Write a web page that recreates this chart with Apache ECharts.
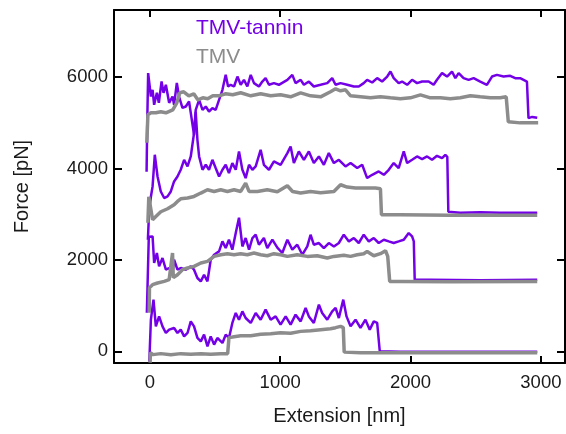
<!DOCTYPE html>
<html>
<head>
<meta charset="utf-8">
<script src="https://cdn.jsdelivr.net/npm/echarts@6/dist/echarts.min.js"></script>
<style>
html,body{margin:0;padding:0;background:#fff;}
#chart{width:566px;height:434px;}
</style>
</head>
<body>
<div id="chart"></div>
<script>
// Series names
const seriesNames = ['TMV-tannin', 'TMV'];
// Axis titles
const xTitle = 'Extension [nm]';
const yTitle = 'Force [pN]';

// Pair 4 (top)
const tannin4 = [[-25,3930],[-20,5000],[-13,6090],[8,5577],[21,5723],[33,5395],[54,5658],[69,5439],[90,5905],[105,5658],[123,5833],[148,5439],[174,5577],[186,5395],[207,5876],[224,5577],[250,5330],[276,5358],[301,5468],[314,5220],[339,4739],[352,5286],[378,5505],[404,5286],[429,5358],[454,5249],[480,5323],[505,5286],[531,5505],[557,5723],[582,6051],[600,5796],[620,5833],[646,5796],[672,6014],[697,5833],[722,5942],[748,5796],[774,6051],[799,5870],[837,5796],[863,5905],[888,5979],[914,5833],[952,5870],[990,5833],[1055,5942],[1093,6051],[1118,5870],[1157,5942],[1182,5833],[1220,5905],[1258,5796],[1310,5833],[1361,5870],[1399,5979],[1425,5833],[1463,5870],[1514,5833],[1565,5796],[1603,5796],[1641,5870],[1667,5942],[1706,5883],[1744,5979],[1782,5905],[1821,6014],[1846,6124],[1871,5979],[1909,5870],[1935,5905],[1974,5833],[2012,5942],[2050,5870],[2089,5905],[2139,5905],[2177,5833],[2203,5942],[2242,6089],[2280,6014],[2318,6124],[2344,5979],[2369,6089],[2407,5979],[2446,5942],[2484,5979],[2535,5905],[2586,5833],[2625,6014],[2663,6051],[2714,6014],[2765,6030],[2803,5979],[2841,5979],[2867,5942],[2893,5905],[2905,5104],[2933,5130],[2972,5110]];
const tmv4 = [[-23,4564],[-15,5177],[8,5220],[46,5220],[84,5242],[123,5220],[176,5286],[207,5439],[230,5658],[260,5680],[299,5592],[337,5636],[368,5505],[406,5548],[444,5527],[483,5592],[528,5592],[582,5636],[636,5614],[697,5658],[774,5592],[850,5636],[927,5592],[1003,5614],[1080,5570],[1157,5658],[1233,5592],[1310,5570],[1386,5680],[1425,5745],[1463,5702],[1501,5723],[1540,5592],[1616,5570],[1693,5548],[1769,5570],[1846,5548],[1922,5527],[1999,5548],[2076,5614],[2152,5548],[2229,5548],[2305,5527],[2382,5548],[2459,5592],[2535,5570],[2612,5548],[2688,5548],[2734,5570],[2750,5023],[2841,5000],[2979,5000]];

// Pair 3
const tannin3 = [[-15,2443],[-5,3099],[8,3383],[21,3609],[38,4302],[59,3827],[84,3499],[110,3355],[136,3390],[161,3499],[186,3718],[212,3827],[237,3974],[263,4192],[289,4046],[314,4265],[339,4776],[352,5242],[365,4630],[378,4265],[404,3974],[429,4083],[454,3974],[480,4192],[505,4011],[531,3827],[557,3974],[582,4083],[607,3902],[633,4120],[659,3974],[684,4374],[710,3974],[735,3792],[761,4083],[787,3974],[812,4046],[850,4411],[875,4083],[914,3974],[952,4155],[1003,4083],[1055,4339],[1080,4483],[1105,4120],[1143,4374],[1182,4192],[1220,4374],[1258,4120],[1297,4265],[1335,4083],[1373,4339],[1412,4120],[1450,4192],[1501,4046],[1540,4120],[1591,4011],[1629,4083],[1667,3792],[1706,3864],[1756,3937],[1795,3864],[1833,3974],[1871,4120],[1909,4011],[1948,4374],[1974,4120],[2012,4192],[2050,4265],[2089,4208],[2127,4265],[2165,4192],[2203,4280],[2242,4230],[2267,4302],[2282,4258],[2290,3055],[2382,3033],[2535,3044],[2688,3033],[2972,3033]];
const tmv3 = [[-15,2815],[-8,3383],[21,2880],[46,2952],[84,3055],[136,3121],[186,3208],[212,3281],[237,3339],[289,3355],[339,3390],[391,3464],[442,3536],[493,3499],[544,3536],[595,3499],[646,3536],[697,3499],[735,3683],[761,3499],[825,3499],[901,3536],[978,3493],[1055,3624],[1095,3499],[1157,3464],[1233,3499],[1310,3471],[1412,3499],[1463,3646],[1514,3595],[1578,3573],[1667,3573],[1731,3573],[1769,3558],[1777,2990],[1922,2990],[2305,2979],[2972,2979]];

// Pair 2
const tannin2 = [[-23,846],[-8,2508],[21,2515],[33,1933],[54,2152],[71,1859],[97,2043],[123,1787],[148,1824],[174,1715],[186,2005],[212,1787],[237,1824],[276,1787],[314,1859],[339,1787],[365,1605],[391,1531],[416,1677],[442,1531],[467,2005],[493,2115],[531,2187],[557,2406],[582,2261],[607,2443],[633,2224],[659,2589],[684,2924],[710,2296],[735,2480],[761,2224],[787,2480],[812,2552],[837,2334],[875,2480],[901,2261],[940,2443],[978,2268],[1016,2152],[1055,2443],[1093,2224],[1131,2334],[1170,2115],[1208,2296],[1233,2552],[1258,2334],[1297,2371],[1335,2261],[1373,2371],[1412,2296],[1450,2371],[1488,2552],[1527,2406],[1565,2480],[1603,2371],[1641,2552],[1680,2406],[1718,2480],[1756,2371],[1795,2443],[1833,2406],[1871,2371],[1909,2406],[1948,2443],[1986,2589],[2012,2515],[2025,2406],[2032,1568],[2153,1568],[2535,1557],[2972,1568]];
const tmv2 = [[-5,846],[-3,1393],[21,1459],[59,1496],[110,1531],[148,1568],[174,2152],[180,1612],[212,1677],[250,1787],[289,1824],[339,1859],[391,1933],[442,1968],[493,2078],[544,2115],[595,2137],[646,2115],[697,2137],[748,2115],[799,2152],[850,2115],[901,2093],[952,2137],[1003,2115],[1055,2078],[1131,2115],[1208,2078],[1284,2093],[1361,2043],[1412,2078],[1488,2104],[1540,2078],[1591,2115],[1641,2137],[1667,2187],[1718,2093],[1769,2137],[1808,2202],[1825,2078],[1840,1531],[1922,1531],[2305,1524],[2972,1531]];

// Pair 1 (bottom)
const tannin1 = [[-4,-225],[8,693],[28,1131],[46,547],[71,765],[97,547],[123,402],[148,475],[186,512],[212,402],[237,475],[263,328],[289,402],[314,656],[339,547],[365,293],[391,219],[416,365],[442,109],[467,328],[493,147],[518,293],[557,184],[582,365],[607,293],[633,621],[659,840],[684,693],[710,875],[735,730],[774,621],[812,840],[850,693],[888,912],[927,693],[965,765],[1003,584],[1042,765],[1080,584],[1118,803],[1157,656],[1195,949],[1220,765],[1258,621],[1297,1021],[1322,840],[1361,693],[1399,875],[1425,949],[1450,730],[1484,1131],[1509,765],[1540,547],[1578,693],[1616,512],[1654,693],[1687,475],[1718,656],[1744,621],[1758,584],[1764,0],[1922,-7],[2305,-7],[2972,-7]];
const tmv1 = [[2,-247],[4,-28],[23,-72],[84,-50],[161,-72],[237,-50],[314,-61],[391,-50],[467,-61],[544,-50],[597,-50],[607,300],[646,321],[697,343],[774,343],[850,376],[927,387],[1003,409],[1080,398],[1157,437],[1233,453],[1310,475],[1386,496],[1425,518],[1463,547],[1484,518],[1491,-17],[1616,-28],[1922,-28],[2305,-28],[2688,-28],[2972,-28]];

const PURPLE = '#7300e6';
const GRAY = '#8c8c8c';
const FONT = 'Liberation Sans, Arial, sans-serif';
const TXT = '#1a1a1a';

const chart = echarts.init(document.getElementById('chart'), null, {renderer: 'canvas'});

function line(name, data, color, width, z) {
  return {
    name: name, type: 'line', data: data, showSymbol: false, symbol: 'none',
    lineStyle: {color: color, width: width}, itemStyle: {color: color},
    animation: false, z: z, xAxisIndex: 0, yAxisIndex: 0
  };
}
function plain(v) { return String(Math.round(v)); }

const xCommon = {
  type: 'value', min: -275, max: 3185, minInterval: 1000, maxInterval: 1000, splitNumber: 3,
  axisLine: {show: true, onZero: false, lineStyle: {color: '#000', width: 2}},
  axisTick: {show: true, inside: true, length: 7, lineStyle: {color: '#000', width: 2}},
  splitLine: {show: false}
};
const yCommon = {
  type: 'value', min: -255, max: 7470, minInterval: 2000, maxInterval: 2000, splitNumber: 4,
  axisLine: {show: true, onZero: false, lineStyle: {color: '#000', width: 2}},
  axisTick: {show: true, inside: true, length: 8, lineStyle: {color: '#000', width: 2}},
  splitLine: {show: false}
};

chart.setOption({
  animation: false,
  grid: {left: 114, right: 1, top: 10, bottom: 71, containLabel: false},
  legend: {
    data: [
      {name: seriesNames[0], textStyle: {color: PURPLE}},
      {name: seriesNames[1], textStyle: {color: GRAY}}
    ],
    orient: 'vertical', left: 185, top: 13, itemWidth: 0, itemHeight: 0, itemGap: 8,
    selectedMode: false,
    textStyle: {fontFamily: FONT, fontSize: 21, lineHeight: 21}
  },
  xAxis: [
    Object.assign({}, xCommon, {
      position: 'bottom', name: xTitle, nameLocation: 'middle', nameGap: 43,
      nameTextStyle: {fontFamily: FONT, fontSize: 20, color: TXT},
      axisLabel: {show: true, margin: 10, fontFamily: FONT, fontSize: 18.5, color: TXT, formatter: plain, showMinLabel: false, showMaxLabel: false}
    }),
    Object.assign({}, xCommon, {position: 'top', axisLabel: {show: false}})
  ],
  yAxis: [
    Object.assign({}, yCommon, {
      position: 'left', name: yTitle, nameLocation: 'middle', nameGap: 82,
      nameTextStyle: {fontFamily: FONT, fontSize: 20, color: TXT},
      axisLabel: {show: true, margin: 6, fontFamily: FONT, fontSize: 18.5, color: TXT, formatter: plain, showMinLabel: false, showMaxLabel: false}
    }),
    Object.assign({}, yCommon, {position: 'right', axisLabel: {show: false}})
  ],
  series: [
    line(seriesNames[0], tannin4, PURPLE, 2.5, 2),
    line(seriesNames[0], tannin3, PURPLE, 2.5, 2),
    line(seriesNames[0], tannin2, PURPLE, 2.5, 2),
    line(seriesNames[0], tannin1, PURPLE, 2.5, 2),
    line(seriesNames[1], tmv4, GRAY, 3.5, 3),
    line(seriesNames[1], tmv3, GRAY, 3.5, 3),
    line(seriesNames[1], tmv2, GRAY, 3.5, 3),
    line(seriesNames[1], tmv1, GRAY, 3.5, 3)
  ]
});
</script>
</body>
</html>
